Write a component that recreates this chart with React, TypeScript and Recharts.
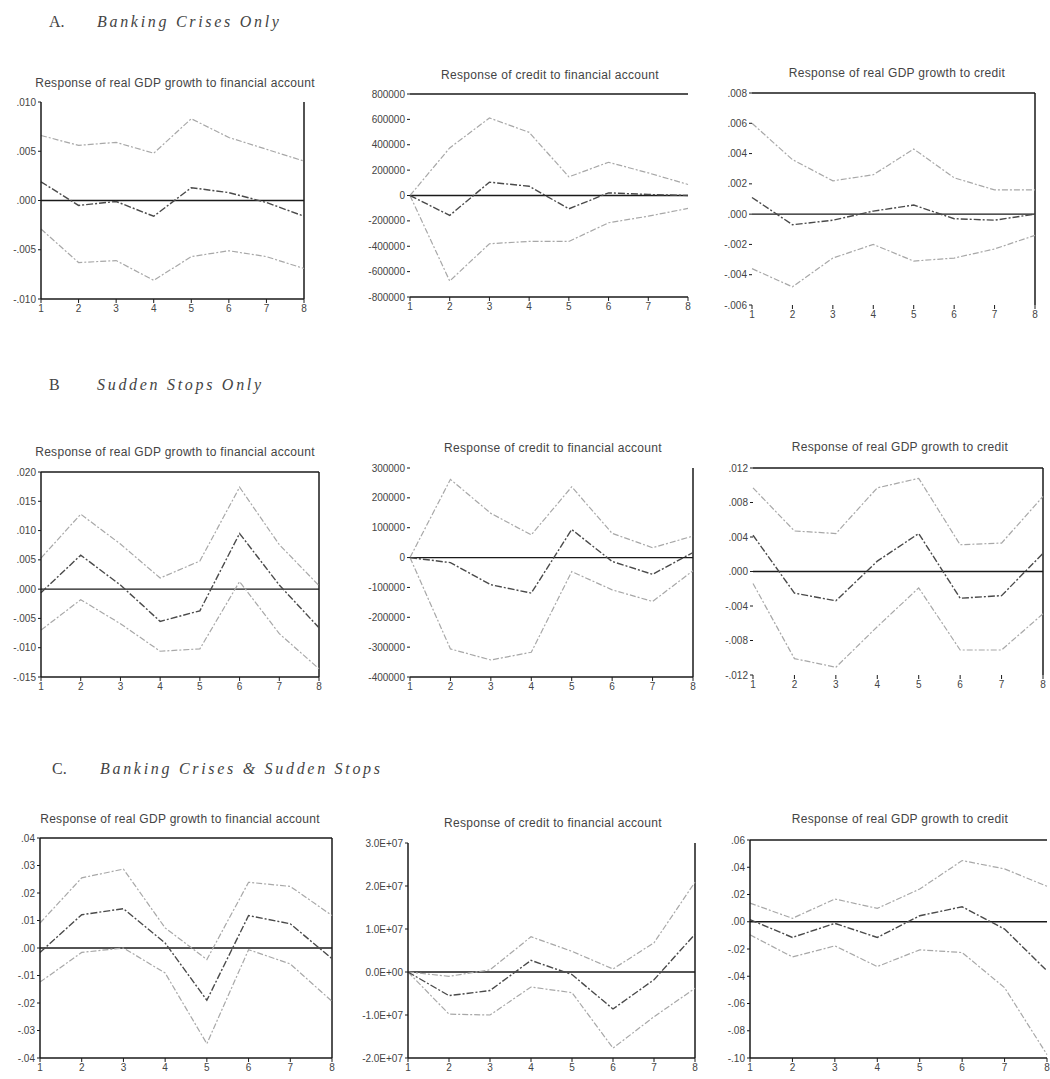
import React from "react";
import { LineChart, Line, XAxis, YAxis, ReferenceLine } from "recharts";

// impulse response horizon
const PERIODS = [1, 2, 3, 4, 5, 6, 7, 8];

const TITLE_GDP_FA = "Response of real GDP growth to financial account";
const TITLE_CREDIT_FA = "Response of credit to financial account";
const TITLE_GDP_CREDIT = "Response of real GDP growth to credit";

// A. Banking crises only
const a1Upper = [0.0066, 0.0056, 0.0059, 0.0048, 0.0083, 0.0064, 0.0052, 0.004];
const a1Mid = [0.0019, -0.0005, -0.0001, -0.0016, 0.0013, 0.0008, -0.0002, -0.0016];
const a1Lower = [-0.0029, -0.0063, -0.0061, -0.0081, -0.0057, -0.0051, -0.0057, -0.0069];
const a1Ticks = [0.01, 0.005, 0, -0.005, -0.01];
const a1Labels = [".010", ".005", ".000", "-.005", "-.010"];

const a2Upper = [0, 375000, 611000, 498000, 147000, 262000, 178000, 87000];
const a2Mid = [0, -157000, 105000, 73000, -105000, 21000, 8000, 0];
const a2Lower = [0, -674000, -380000, -362000, -362000, -215000, -163000, -102000];
const a2Ticks = [800000, 600000, 400000, 200000, 0, -200000, -400000, -600000, -800000];
const a2Labels = ["800000", "600000", "400000", "200000", "0", "-200000", "-400000", "-600000", "-800000"];

const a3Upper = [0.006, 0.0036, 0.0022, 0.0026, 0.0043, 0.0024, 0.0016, 0.0016];
const a3Mid = [0.0011, -0.0007, -0.0004, 0.0002, 0.0006, -0.0003, -0.0004, 0.0];
const a3Lower = [-0.0036, -0.0048, -0.0029, -0.002, -0.0031, -0.0029, -0.0023, -0.0014];
const a3Ticks = [0.008, 0.006, 0.004, 0.002, 0, -0.002, -0.004, -0.006];
const a3Labels = [".008", ".006", ".004", ".002", ".000", "-.002", "-.004", "-.006"];

// B. Sudden stops only
const b1Upper = [0.0053, 0.0128, 0.0077, 0.0019, 0.0048, 0.0174, 0.0076, 0.0006];
const b1Mid = [-0.0006, 0.0058, 0.0007, -0.0055, -0.0037, 0.0095, 0.0007, -0.0066];
const b1Lower = [-0.007, -0.0018, -0.0059, -0.0106, -0.0102, 0.0013, -0.0076, -0.0136];
const b1Ticks = [0.02, 0.015, 0.01, 0.005, 0, -0.005, -0.01, -0.015];
const b1Labels = [".020", ".015", ".010", ".005", ".000", "-.005", "-.010", "-.015"];

const b2Upper = [0, 262000, 148000, 76000, 237000, 81000, 33000, 72000];
const b2Mid = [0, -17000, -91000, -119000, 94000, -13000, -56000, 17000];
const b2Lower = [0, -306000, -343000, -317000, -47000, -108000, -147000, -44000];
const b2Ticks = [300000, 200000, 100000, 0, -100000, -200000, -300000, -400000];
const b2Labels = ["300000", "200000", "100000", "0", "-100000", "-200000", "-300000", "-400000"];

const b3Upper = [0.0097, 0.0047, 0.0044, 0.0097, 0.0108, 0.0031, 0.0033, 0.0087];
const b3Mid = [0.0042, -0.0025, -0.0034, 0.0012, 0.0044, -0.0031, -0.0028, 0.0021];
const b3Lower = [-0.0014, -0.0101, -0.0111, -0.0064, -0.0019, -0.0091, -0.0091, -0.0049];
const b3Ticks = [0.012, 0.008, 0.004, 0, -0.004, -0.008, -0.012];
const b3Labels = [".012", ".008", ".004", ".000", "-.004", "-.008", "-.012"];

// C. Banking crises & sudden stops
const c1Upper = [0.0091, 0.0255, 0.0287, 0.0073, -0.0042, 0.0239, 0.0224, 0.0118];
const c1Mid = [-0.0016, 0.0121, 0.0143, 0.0018, -0.019, 0.0118, 0.0088, -0.0039];
const c1Lower = [-0.0124, -0.0016, 0.0, -0.0091, -0.0348, -0.0006, -0.0058, -0.0194];
const c1Ticks = [0.04, 0.03, 0.02, 0.01, 0, -0.01, -0.02, -0.03, -0.04];
const c1Labels = [".04", ".03", ".02", ".01", ".00", "-.01", "-.02", "-.03", "-.04"];

const c2Upper = [0, -1.0e6, 0.5e6, 8.2e6, 4.8e6, 0.7e6, 6.8e6, 20.9e6];
const c2Mid = [0, -5.5e6, -4.3e6, 2.7e6, -0.6e6, -8.6e6, -1.8e6, 8.8e6];
const c2Lower = [0, -9.8e6, -10.0e6, -3.5e6, -4.8e6, -17.7e6, -10.4e6, -3.8e6];
const c2Ticks = [3e7, 2e7, 1e7, 0, -1e7, -2e7];
const c2Labels = ["3.0E+07", "2.0E+07", "1.0E+07", "0.0E+00", "-1.0E+07", "-2.0E+07"];

const c3Upper = [0.0137, 0.0025, 0.0167, 0.0098, 0.024, 0.0449, 0.0388, 0.026];
const c3Mid = [0.0015, -0.0115, -0.0012, -0.0115, 0.0044, 0.011, -0.0054, -0.036];
const c3Lower = [-0.0096, -0.0258, -0.0177, -0.0329, -0.0206, -0.0226, -0.0484, -0.0975];
const c3Ticks = [0.06, 0.04, 0.02, 0, -0.02, -0.04, -0.06, -0.08, -0.1];
const c3Labels = [".06", ".04", ".02", ".00", "-.02", "-.04", "-.06", "-.08", "-.10"];

const SECTIONS = [
  { mark: "A.", text: "Banking Crises Only", x: 49, y: 22 },
  { mark: "B", text: "Sudden Stops Only", x: 49, y: 385 },
  { mark: "C.", text: "Banking Crises & Sudden Stops", x: 52, y: 769 },
];

interface Frame { top?: boolean; right?: boolean; bottom?: boolean; left?: boolean }
interface Panel {
  title: string;
  upper: number[];
  mid: number[];
  lower: number[];
  ticks: number[];
  labels: string[];
  plot: { x: number; y: number; w: number; h: number };
  titleAt: [number, number];
  frame: Frame;
}

const PANELS: Panel[] = [
  { title: TITLE_GDP_FA, upper: a1Upper, mid: a1Mid, lower: a1Lower, ticks: a1Ticks, labels: a1Labels,
    plot: { x: 41, y: 102, w: 263, h: 197 }, titleAt: [175, 83], frame: { right: true, bottom: true, left: true } },
  { title: TITLE_CREDIT_FA, upper: a2Upper, mid: a2Mid, lower: a2Lower, ticks: a2Ticks, labels: a2Labels,
    plot: { x: 410, y: 94, w: 278, h: 203 }, titleAt: [550, 75], frame: { top: true, bottom: true } },
  { title: TITLE_GDP_CREDIT, upper: a3Upper, mid: a3Mid, lower: a3Lower, ticks: a3Ticks, labels: a3Labels,
    plot: { x: 752, y: 93, w: 283, h: 212 }, titleAt: [897, 73], frame: { top: true, right: true } },
  { title: TITLE_GDP_FA, upper: b1Upper, mid: b1Mid, lower: b1Lower, ticks: b1Ticks, labels: b1Labels,
    plot: { x: 41, y: 472, w: 278, h: 205 }, titleAt: [175, 452], frame: { top: true, right: true, bottom: true, left: true } },
  { title: TITLE_CREDIT_FA, upper: b2Upper, mid: b2Mid, lower: b2Lower, ticks: b2Ticks, labels: b2Labels,
    plot: { x: 410, y: 468, w: 283, h: 209 }, titleAt: [553, 448], frame: { right: true, bottom: true } },
  { title: TITLE_GDP_CREDIT, upper: b3Upper, mid: b3Mid, lower: b3Lower, ticks: b3Ticks, labels: b3Labels,
    plot: { x: 753, y: 468, w: 290, h: 207 }, titleAt: [900, 447], frame: { top: true, right: true } },
  { title: TITLE_GDP_FA, upper: c1Upper, mid: c1Mid, lower: c1Lower, ticks: c1Ticks, labels: c1Labels,
    plot: { x: 40, y: 838, w: 292, h: 220 }, titleAt: [180, 819], frame: { top: true, right: true, bottom: true, left: true } },
  { title: TITLE_CREDIT_FA, upper: c2Upper, mid: c2Mid, lower: c2Lower, ticks: c2Ticks, labels: c2Labels,
    plot: { x: 408, y: 843, w: 287, h: 215 }, titleAt: [553, 823], frame: { right: true, bottom: true, left: true } },
  { title: TITLE_GDP_CREDIT, upper: c3Upper, mid: c3Mid, lower: c3Lower, ticks: c3Ticks, labels: c3Labels,
    plot: { x: 750, y: 840, w: 297, h: 218 }, titleAt: [900, 819], frame: { top: true, bottom: true, left: true } },
];

const INK = "#1a1a1a";
const BAND = "#a8a8a8";
const CENTER = "#4a4a4a";
const SANS = "'Liberation Sans', Arial, sans-serif";

function IrfPanel({ p }: { p: Panel }) {
  const data = PERIODS.map((t, i) => ({ t, upper: p.upper[i], mid: p.mid[i], lower: p.lower[i] }));
  const lo = Math.min(...p.ticks);
  const hi = Math.max(...p.ticks);
  const eps = (hi - lo) * 1e-6;
  const fmt = (v: number) => {
    const i = p.ticks.findIndex((t) => Math.abs(t - v) < eps);
    return i >= 0 ? p.labels[i] : "";
  };
  const AXW = 60, TOP = 4, XH = 22, RIGHT = 3;
  const axisLine = { stroke: INK, strokeWidth: 1.5 };

  return (
    <>
      <div
        style={{
          position: "absolute", left: p.titleAt[0], top: p.titleAt[1],
          transform: "translate(-50%, -50%)", whiteSpace: "nowrap",
          fontFamily: SANS, fontSize: 12, letterSpacing: 0.3, color: "#444",
        }}
      >
        {p.title}
      </div>
      <div style={{ position: "absolute", left: p.plot.x - AXW, top: p.plot.y - TOP }}>
        <LineChart
          width={AXW + p.plot.w + RIGHT}
          height={TOP + p.plot.h + XH}
          data={data}
          margin={{ top: TOP, right: RIGHT, bottom: 0, left: 0 }}
        >
          <XAxis
            dataKey="t" type="number" domain={[1, 8]} ticks={PERIODS} interval={0}
            height={XH} tickSize={4} tickMargin={2}
            axisLine={p.frame.bottom ? axisLine : false}
            tickLine={{ stroke: INK }}
            tick={{ fontSize: 10, fill: "#444", fontFamily: SANS }}
          />
          <YAxis
            type="number" domain={[lo, hi]} ticks={p.ticks} interval={0}
            width={AXW} tickSize={3} tickMargin={2} allowDataOverflow
            axisLine={p.frame.left ? axisLine : false}
            tickLine={{ stroke: INK }}
            tick={{ fontSize: 10, fill: "#444", fontFamily: SANS }}
            tickFormatter={fmt}
          />
          {p.frame.top && <ReferenceLine y={hi} stroke={INK} strokeWidth={1.5} />}
          {p.frame.right && <ReferenceLine x={8} stroke={INK} strokeWidth={1.5} />}
          <ReferenceLine y={0} stroke={INK} strokeWidth={1.3} />
          <Line dataKey="upper" stroke={BAND} strokeWidth={1.2} strokeDasharray="6 2 2 2" dot={false} isAnimationActive={false} />
          <Line dataKey="lower" stroke={BAND} strokeWidth={1.2} strokeDasharray="6 2 2 2" dot={false} isAnimationActive={false} />
          <Line dataKey="mid" stroke={CENTER} strokeWidth={1.4} strokeDasharray="7 2 2 2" dot={false} isAnimationActive={false} />
        </LineChart>
      </div>
    </>
  );
}

export default function App() {
  return (
    <div style={{ position: "absolute", left: 0, top: 0, width: 1050, height: 1079, background: "#fff", overflow: "hidden" }}>
      {SECTIONS.map((s) => (
        <div
          key={s.mark}
          style={{
            position: "absolute", left: s.x, top: s.y, transform: "translateY(-50%)",
            whiteSpace: "nowrap", fontFamily: "'Liberation Serif', 'Times New Roman', serif",
            fontSize: 16, color: "#444",
          }}
        >
          <span style={{ display: "inline-block", width: 48 }}>{s.mark}</span>
          <span style={{ fontStyle: "italic", letterSpacing: 2.7 }}>{s.text}</span>
        </div>
      ))}
      {PANELS.map((p, i) => (
        <IrfPanel key={i} p={p} />
      ))}
    </div>
  );
}
